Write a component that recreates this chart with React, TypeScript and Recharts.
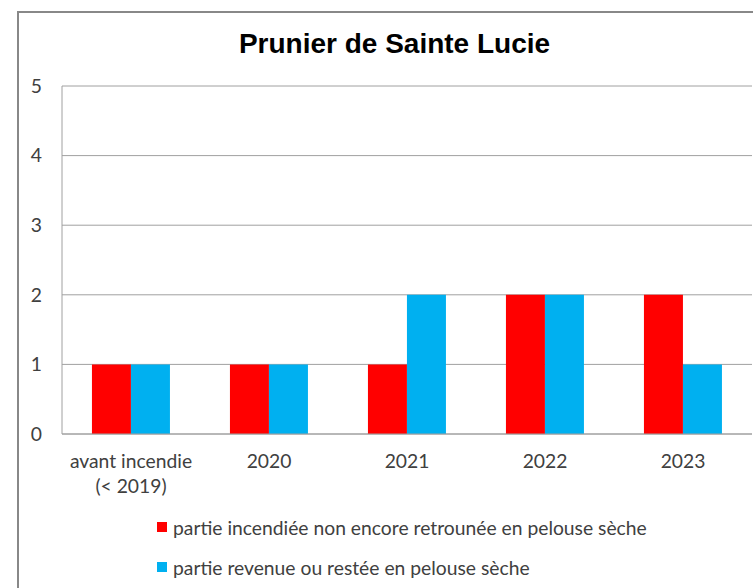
import { BarChart, Bar, XAxis, YAxis, CartesianGrid, Legend } from "recharts"

const categories = ["avant incendie\n(< 2019)", "2020", "2021", "2022", "2023"]
const burnedValues = [1, 1, 1, 2, 2]
const recoveredValues = [1, 1, 2, 2, 1]
const yTicks = [0, 1, 2, 3, 4, 5]
const seriesNames = [
	"partie incendiée non encore retrounée en pelouse sèche",
	"partie revenue ou restée en pelouse sèche",
]
const seriesColors = ["#FF0000", "#00B0F0"]

const data = categories.map((cat, i) => ({
	cat,
	burned: burnedValues[i],
	recovered: recoveredValues[i],
}))

const FONT = "Lato, 'Open Sans', sans-serif"
const FONT_SIZE = 19.3
const TEXT = "#404040"
const GRID = "#a0a0a0"

const CategoryTick = (props: any) => {
	const { x, y, payload } = props
	const lines = String(payload.value).split("\n")
	return (
		<text
			x={x}
			y={y}
			textAnchor="middle"
			fill={TEXT}
			fontSize={FONT_SIZE}
			fontFamily={FONT}
		>
			{lines.map((line, i) => (
				<tspan key={i} x={x} dy={i === 0 ? 34 : 25}>
					{line}
				</tspan>
			))}
		</text>
	)
}

const SeriesLegend = () => (
	<div style={{ fontFamily: FONT, fontSize: FONT_SIZE, color: TEXT }}>
		{seriesNames.map((name, i) => (
			<div
				key={name}
				style={{ display: "flex", alignItems: "center", height: 40 }}
			>
				<span
					style={{
						display: "inline-block",
						width: 10,
						height: 10,
						background: seriesColors[i],
						marginRight: 6,
					}}
				/>
				<span>{name}</span>
			</div>
		))}
	</div>
)

const App = () => {
	return (
		<div
			style={{
				position: "absolute",
				left: 0,
				top: 0,
				width: 753,
				height: 588,
				overflow: "hidden",
				background: "#fff",
			}}
		>
			<div
				style={{
					position: "absolute",
					left: 17,
					top: 11,
					width: 900,
					height: 900,
					border: "2px solid #888",
				}}
			/>
			<div
				style={{
					position: "absolute",
					left: 0,
					top: 28,
					width: 789,
					textAlign: "center",
					fontFamily: "'Liberation Sans', Arial, sans-serif",
					fontWeight: "bold",
					fontSize: 28,
					color: "#000",
				}}
			>
				Prunier de Sainte Lucie
			</div>
			<BarChart
				width={753}
				height={588}
				data={data}
				margin={{ top: 86, right: 1, left: 0, bottom: 0 }}
				barCategoryGap="21.7%"
				barGap={0}
				style={{ position: "absolute", left: 0, top: 0 }}
			>
				<CartesianGrid vertical={false} stroke={GRID} />
				<XAxis
					dataKey="cat"
					height={154}
					tickLine={false}
					tickSize={0}
					tickMargin={0}
					axisLine={{ stroke: GRID }}
					tick={<CategoryTick />}
					interval={0}
				/>
				<YAxis
					width={62}
					domain={[0, 5]}
					ticks={yTicks}
					tickLine={false}
					tickSize={0}
					tickMargin={20}
					axisLine={{ stroke: GRID }}
					tick={{ fill: TEXT, fontSize: FONT_SIZE, fontFamily: FONT }}
				/>
				<Legend
					layout="vertical"
					align="center"
					verticalAlign="middle"
					content={<SeriesLegend />}
					wrapperStyle={{ left: 157, top: 507, width: 580 }}
				/>
				<Bar
					dataKey="burned"
					name={seriesNames[0]}
					fill={seriesColors[0]}
					isAnimationActive={false}
				/>
				<Bar
					dataKey="recovered"
					name={seriesNames[1]}
					fill={seriesColors[1]}
					isAnimationActive={false}
				/>
			</BarChart>
		</div>
	)
}

export default App
